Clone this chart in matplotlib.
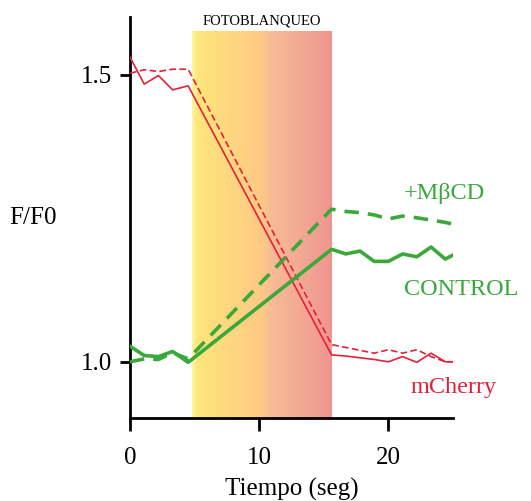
import matplotlib
matplotlib.use("Agg")
import matplotlib.pyplot as plt
import numpy as np
from matplotlib.colors import LinearSegmentedColormap

# time points (s): pre-bleach frames, then post-bleach frames
t_pre = [0, 1.1, 2.2, 3.3, 4.5]
t_post = [15.6, 16.7, 17.8, 18.9, 20.0, 21.1, 22.2, 23.3, 24.4, 25.0]

mcherry = [1.531, 1.484, 1.499, 1.474, 1.481,
           1.012, 1.010, 1.007, 1.004, 1.000, 1.009, 0.999, 1.015, 1.000, 1.000]
mcherry_mbcd = [1.503, 1.509, 1.506, 1.510, 1.510,
                1.030, 1.025, 1.020, 1.015, 1.021, 1.015, 1.021, 1.009, 1.000, 1.000]
control = [1.027, 1.011, 1.009, 1.018, 0.999,
           1.196, 1.188, 1.193, 1.175, 1.175, 1.188, 1.183, 1.200, 1.179, 1.186]
mbcd = [1.000, 1.005, 1.004, 1.016, 1.005,
        1.266, 1.262, 1.260, 1.256, 1.249, 1.254, 1.251, 1.247, 1.243, 1.240]

t = t_pre + t_post
bleach = (4.8, 15.6)

red = "#e5213a"
green = "#3aa83a"
serif = ["Liberation Serif", "DejaVu Serif"]
plt.rcParams["font.family"] = serif

fig = plt.figure(figsize=(5.31, 5.01), dpi=100)
ax = fig.add_axes([130 / 531, 1 - 418 / 501, 323 / 531, 401 / 501])

# photobleaching window with a yellow -> salmon gradient
cmap = LinearSegmentedColormap.from_list(
    "bleach", [(0, "#fff6a0"), (0.04, "#ffe57a"), (0.5, "#fdc986"),
               (0.58, "#f7ba95"), (1.0, "#ef9590")])
grad = np.linspace(0, 1, 256).reshape(1, -1)
ax.imshow(grad, cmap=cmap, aspect="auto", extent=[bleach[0], bleach[1], 0.902, 1.575],
          zorder=0)
ax.text(sum(bleach) / 2, 1.583, "FOTOBLANQUEO", ha="center", va="bottom", fontsize=10.5)

ax.plot(t, mcherry, color=red, lw=1.2, zorder=3)
ax.plot(t, mcherry_mbcd, color=red, lw=1.2, ls=(0, (4, 2)), zorder=3)
ax.plot(t, control, color=green, lw=2.6, zorder=4)
ax.plot(t, mbcd, color=green, lw=2.6, ls=(0, (4, 2.5)), zorder=4)

ax.text(21.2, 1.293, "+M\u03b2CD", color=green, fontsize=17.5, va="center")
ax.text(21.2, 1.126, "CONTROL", color=green, fontsize=17.5, va="center")
ax.text(21.7, 0.955, "mCherry", color=red, fontsize=17.5, va="center")

ax.set_xlim(0, 25)
ax.set_ylim(0.902, 1.601)
ax.set_xticks([0, 10, 20])
ax.set_yticks([1.0, 1.5])
ax.set_yticklabels(["1.0", "1.5"])
for s in ["top", "right"]:
    ax.spines[s].set_visible(False)
for s in ["left", "bottom"]:
    ax.spines[s].set_linewidth(2)
ax.tick_params(axis="both", width=2, labelsize=18, direction="out")
ax.tick_params(axis="x", length=9, pad=12)
ax.tick_params(axis="y", length=7, pad=6)
ax.set_xlabel("Tiempo (seg)", fontsize=18, labelpad=6)
ax.set_ylabel("F/F0", fontsize=18, rotation=0, va="center", ha="center")
ax.yaxis.set_label_coords(-0.30, 0.5)

fig.savefig("out.png", dpi=100)
